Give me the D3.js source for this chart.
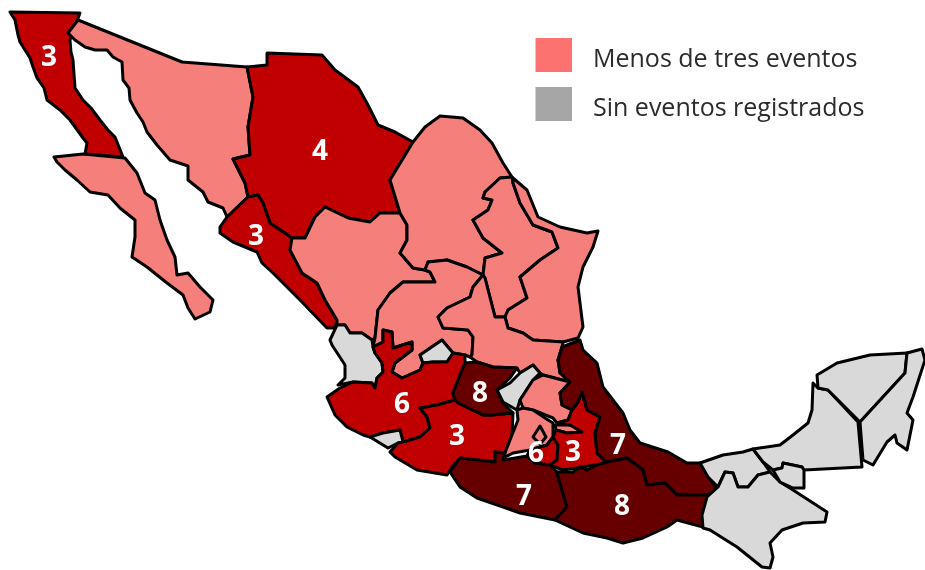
<!DOCTYPE html>
<html><head><meta charset="utf-8">
<script src="https://cdn.jsdelivr.net/npm/d3@7"></script>
<style>html,body{margin:0;background:#fff}svg{display:block;filter:blur(0.45px)}</style></head>
<body><svg id="c" width="925" height="570"></svg>
<script>
const stateNames=["Baja California","Baja California Sur","Sonora","Chihuahua","Sinaloa","Durango","Coahuila","Nuevo León","Tamaulipas","Zacatecas","San Luis Potosí","Nayarit","Aguascalientes","Jalisco","Colima","Michoacán","Guanajuato","Querétaro","Hidalgo","Estado de México","Morelos","Tlaxcala","Puebla","Veracruz","Guerrero","Oaxaca","Tabasco","Chiapas","Campeche","Región Candelaria","Yucatán","Quintana Roo","Ciudad de México"];
const stateCounts=[3,1,1,4,3,1,1,1,1,1,1,0,0,6,0,3,8,0,1,1,6,1,3,7,7,8,0,0,0,0,0,0,1];
const labelledStates=["Baja California","Chihuahua","Sinaloa","Jalisco","Guanajuato","Michoacán","Veracruz","Puebla","Morelos","Guerrero","Oaxaca"];
const labelAnchors=[[49,56],[320,150],[256,235],[402,403],[480,392],[457,435],[618,444],[573,451],[536,452],[524,495],[622,505]];
const stateOutlines=[
[[10,12],[80,13],[70,40],[71,52],[73,60],[75,88],[83,100],[91,108],[100,120],[108,130],[115,137],[123,157],[85,154],[87,143],[83,138],[70,120],[60,110],[47,100],[44,88],[37,78],[33,67],[30,58],[20,42],[18,35],[15,20]],
[[54,157],[83,154],[125,158],[137,173],[145,193],[155,200],[160,220],[167,240],[175,257],[177,275],[188,273],[200,287],[213,300],[210,312],[195,319],[188,308],[183,295],[167,283],[147,267],[132,257],[135,237],[135,220],[120,208],[108,195],[90,192],[77,180],[65,170],[57,162]],
[[78,20],[182,62],[247,67],[253,97],[248,127],[250,155],[233,159],[245,183],[248,197],[227,217],[223,208],[208,202],[203,192],[188,180],[188,166],[170,160],[157,145],[147,132],[143,122],[137,113],[130,100],[129,88],[123,80],[122,62],[113,57],[107,50],[95,50],[85,47],[75,40],[68,33]],
[[247,67],[267,65],[267,53],[322,55],[335,70],[358,87],[368,105],[378,125],[395,132],[413,142],[390,180],[400,213],[380,213],[370,222],[348,218],[325,207],[315,217],[305,238],[292,238],[270,223],[263,203],[258,195],[248,197],[245,183],[233,159],[250,155],[248,127],[253,97]],
[[227,217],[248,197],[258,195],[263,203],[270,223],[292,238],[290,250],[302,273],[317,283],[325,300],[337,320],[335,328],[327,328],[300,300],[273,273],[262,263],[257,252],[233,242],[220,233],[220,227]],
[[292,238],[305,238],[315,217],[325,207],[348,218],[370,222],[380,213],[400,213],[407,225],[407,240],[400,253],[413,268],[425,270],[430,272],[435,282],[403,282],[390,293],[378,310],[375,338],[372,340],[362,333],[350,333],[345,325],[337,325],[337,320],[325,300],[317,283],[302,273],[290,250]],
[[413,142],[425,127],[440,116],[463,118],[480,130],[492,143],[503,163],[512,177],[500,178],[485,192],[483,198],[492,200],[488,210],[473,220],[483,238],[502,253],[485,258],[483,275],[467,267],[447,260],[428,262],[425,270],[413,268],[400,253],[407,240],[407,225],[400,213],[390,180]],
[[512,177],[500,178],[485,192],[483,198],[492,200],[488,210],[473,220],[483,238],[502,253],[485,258],[483,275],[485,278],[495,317],[505,317],[508,310],[527,298],[520,277],[540,260],[558,248],[552,232],[533,225],[520,203],[513,183]],
[[513,178],[527,190],[538,217],[560,227],[587,233],[598,231],[593,247],[583,267],[578,287],[583,327],[578,338],[563,342],[533,340],[523,333],[508,328],[505,317],[508,310],[527,298],[520,277],[540,260],[558,248],[552,232],[533,225],[520,203],[513,183]],
[[403,282],[435,282],[430,272],[425,270],[428,262],[447,260],[467,267],[483,275],[473,287],[470,297],[447,308],[438,317],[443,328],[468,330],[473,337],[472,355],[470,357],[465,355],[453,353],[442,340],[420,355],[423,363],[420,370],[402,378],[392,372],[395,363],[412,350],[412,342],[393,348],[392,332],[383,330],[383,342],[373,347],[375,338],[378,310],[390,293]],
[[483,275],[485,278],[495,317],[505,317],[508,328],[523,333],[533,340],[563,342],[562,347],[558,360],[560,373],[570,382],[543,375],[540,373],[533,365],[520,373],[517,368],[493,367],[477,362],[470,357],[472,355],[473,337],[468,330],[443,328],[438,317],[447,308],[470,297],[473,287]],
[[337,325],[345,325],[350,333],[362,333],[372,340],[373,347],[375,353],[382,363],[383,372],[377,378],[375,388],[372,383],[353,382],[338,385],[345,378],[345,365],[332,345],[330,340]],
[[420,355],[442,340],[453,353],[447,362],[433,362],[423,363]],
[[373,347],[383,342],[383,330],[392,332],[393,348],[412,342],[412,350],[395,363],[392,372],[402,378],[420,370],[423,363],[433,362],[447,362],[453,353],[465,355],[465,363],[458,380],[453,393],[455,400],[437,405],[420,408],[427,417],[430,428],[420,437],[403,442],[400,430],[383,433],[370,437],[363,435],[347,427],[335,415],[327,397],[340,388],[353,382],[372,383],[375,388],[377,378],[383,372],[382,363],[375,353]],
[[370,437],[383,433],[400,430],[403,442],[398,443],[388,448]],
[[427,417],[420,408],[437,405],[455,400],[458,403],[483,415],[492,415],[513,413],[512,435],[505,453],[495,452],[495,462],[460,458],[452,467],[447,475],[417,470],[395,457],[390,452],[398,443],[403,442],[420,437],[430,428]],
[[465,363],[477,362],[493,367],[517,368],[510,378],[497,390],[503,403],[513,413],[492,415],[483,415],[458,403],[455,400],[453,393],[458,380]],
[[497,390],[510,383],[520,373],[533,365],[540,373],[533,380],[520,400],[517,410],[503,402]],
[[520,400],[533,380],[543,375],[570,382],[560,393],[562,405],[572,410],[568,420],[557,423],[553,418],[533,410],[523,408]],
[[517,410],[523,408],[533,410],[545,418],[553,423],[553,437],[547,445],[530,450],[513,453],[503,458],[510,440],[518,420]],
[[530,450],[547,445],[553,437],[558,445],[557,460],[550,465],[535,463],[527,456]],
[[555,425],[570,425],[580,428],[582,432],[567,433],[556,430]],
[[578,402],[582,392],[587,410],[600,417],[595,433],[597,453],[607,463],[583,467],[563,470],[550,465],[557,460],[558,445],[553,437],[556,430],[567,433],[582,432],[570,425],[557,423],[568,420],[572,410]],
[[562,347],[580,340],[583,350],[597,363],[603,387],[623,413],[630,430],[640,443],[668,452],[687,463],[700,463],[717,490],[707,495],[677,495],[665,483],[647,485],[643,470],[627,458],[607,462],[607,463],[597,453],[595,433],[600,417],[587,410],[582,392],[578,402],[572,410],[562,405],[560,393],[570,382],[560,373],[558,360]],
[[460,458],[450,472],[460,487],[477,498],[520,513],[555,520],[567,507],[559,480],[557,472],[550,465],[535,463],[527,456],[503,460],[505,453],[495,452],[495,462]],
[[559,480],[567,507],[555,520],[583,533],[607,538],[623,543],[643,538],[667,527],[677,520],[703,527],[702,520],[707,497],[707,495],[677,495],[665,483],[647,485],[643,470],[627,458],[607,462],[597,465],[587,470],[580,467],[573,472],[557,472]],
[[700,463],[723,455],[743,452],[753,449],[763,462],[770,472],[758,475],[748,487],[738,487],[733,473],[725,472],[718,487],[708,477]],
[[718,487],[725,472],[733,473],[738,487],[748,487],[758,475],[770,472],[780,482],[793,490],[827,512],[825,522],[803,523],[782,530],[770,543],[773,557],[770,568],[762,567],[737,547],[710,530],[703,528],[702,515],[707,497]],
[[753,449],[780,445],[793,435],[808,423],[812,410],[813,383],[818,388],[828,390],[858,422],[862,467],[804,470],[802,467],[783,463],[782,468],[773,470],[763,462]],
[[782,468],[783,463],[802,467],[804,470],[804,488],[793,488],[780,482],[773,470]],
[[817,375],[837,363],[870,355],[907,353],[905,373],[860,422],[828,390],[818,388]],
[[907,353],[922,349],[925,360],[913,397],[907,413],[913,420],[907,450],[897,443],[895,435],[887,442],[873,465],[863,460],[860,422],[905,373]],
[[540,426],[546,437],[540,444],[533,437]]
];
const legendLabels=["Menos de tres eventos","Sin eventos registrados"];
const legendColors=["#fb7270","#a6a6a6"];
const fill=d3.scaleThreshold().domain([1,3,7]).range(["#d9d9d9","#f47f7b","#c00000","#660000"]);

const svg=d3.select("#c");
const features=stateOutlines.map((o,i)=>({type:"Feature",properties:{name:stateNames[i],count:stateCounts[i]},
  geometry:{type:"Polygon",coordinates:[o.concat([o[0]])]}}));
const path=d3.geoPath(d3.geoIdentity());
svg.append("g").selectAll("path").data(features).join("path")
  .attr("d",path).attr("fill",d=>fill(d.properties.count))
  .attr("stroke","#000").attr("stroke-width",3).attr("stroke-linejoin","round");
const project=d3.geoIdentity();
svg.append("g").selectAll("text").data(labelledStates).join("text")
  .attr("x",(d,i)=>project(labelAnchors[i])[0]).attr("y",(d,i)=>project(labelAnchors[i])[1])
  .attr("dy","0.36em").attr("text-anchor","middle").attr("fill","#fff")
  .attr("font-family","'Open Sans',sans-serif").attr("font-weight",700).attr("font-size",28)
  .text(d=>stateCounts[stateNames.indexOf(d)]);
const ly=d3.scalePoint().domain(legendLabels).range([55,104]);
const lg=svg.append("g").selectAll("g").data(legendLabels).join("g").attr("transform",d=>`translate(0,${ly(d)})`);
lg.append("rect").attr("x",535.5).attr("y",-17).attr("width",36.5).attr("height",34).attr("fill",(d,i)=>legendColors[i]);
lg.append("text").attr("x",593).attr("y",3).attr("dy","0.35em").attr("font-family","'Open Sans',sans-serif")
  .attr("font-size",25).attr("fill","#2b2b2b").text(d=>d);
</script></body></html>
